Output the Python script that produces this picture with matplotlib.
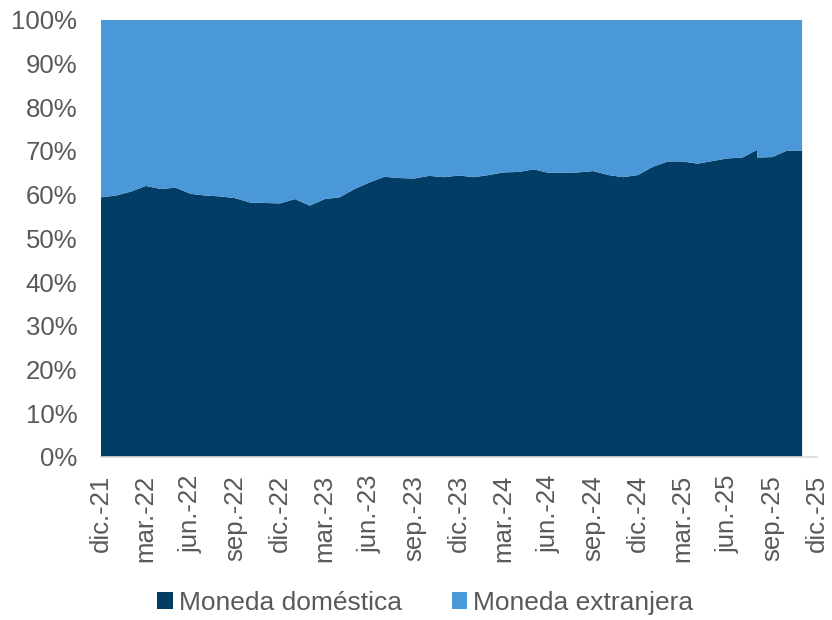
import matplotlib.pyplot as plt
import numpy as np
from matplotlib.patches import Patch
from matplotlib.ticker import FuncFormatter

plt.rcParams["font.family"] = ["Liberation Sans", "DejaVu Sans"]

# month index counted from dic.-21 (44 appears twice: vertical drop in the source)
months = [0, 1, 2, 3, 4, 5, 6, 7, 8, 9, 10, 11, 12, 13, 14, 15, 16, 17, 18, 19,
          20, 21, 22, 23, 24, 25, 26, 27, 28, 29, 30, 31, 32, 33, 34, 35, 36, 37,
          38, 39, 40, 41, 42, 43, 44, 44, 45, 46, 47]

domestica = [59.4, 59.8, 60.7, 62.0, 61.3, 61.6, 60.2, 59.8, 59.6, 59.2,
             58.2, 58.1, 58.0, 59.0, 57.5, 59.0, 59.4, 61.3, 62.8, 64.1,
             63.8, 63.7, 64.3, 64.0, 64.4, 64.0, 64.5, 65.1, 65.2, 65.8,
             65.0, 65.0, 65.1, 65.4, 64.5, 64.0, 64.5, 66.4, 67.6, 67.6,
             67.1, 67.7, 68.3, 68.5, 70.3, 68.5, 68.6, 70.1, 70.1]
extranjera = [100 - v for v in domestica]

tick_pos = list(range(0, 49, 3))
tick_labels = ["dic.-21", "mar.-22", "jun.-22", "sep.-22",
               "dic.-22", "mar.-23", "jun.-23", "sep.-23",
               "dic.-23", "mar.-24", "jun.-24", "sep.-24",
               "dic.-24", "mar.-25", "jun.-25", "sep.-25", "dic.-25"]

c_dom = "#023d66"
c_ext = "#4a98d8"
grey = "#595959"

fig = plt.figure(figsize=(8.32, 6.2), dpi=100)
ax = fig.add_axes([0.1214, 0.263, 0.8606, 0.705])

ax.stackplot(months, domestica, extranjera, colors=[c_dom, c_ext], linewidth=0)

ax.set_xlim(0, 48)
ax.set_ylim(0, 100)
ax.set_yticks(np.arange(0, 101, 10))
ax.yaxis.set_major_formatter(FuncFormatter(lambda v, p: f"{v:.0f}%"))
ax.set_xticks(tick_pos)
ax.set_xticklabels(tick_labels, rotation=90)
ax.tick_params(axis="both", length=0, labelsize=18.5, colors=grey)
ax.tick_params(axis="x", pad=13)
ax.tick_params(axis="y", pad=17)

for s in ["top", "right", "left"]:
    ax.spines[s].set_visible(False)
ax.spines["bottom"].set_color("#d9d9d9")
ax.spines["bottom"].set_linewidth(1.2)

handles = [Patch(facecolor=c_dom, label="Moneda doméstica"),
           Patch(facecolor=c_ext, label="Moneda extranjera")]
fig.legend(handles=handles, loc="center", bbox_to_anchor=(0.511, 0.028), ncol=2,
           frameon=False, fontsize=19, labelcolor=grey, handlelength=0.6,
           handleheight=0.6, handletextpad=0.2, columnspacing=1.9,
           borderpad=0)

fig.savefig("out.png", dpi=100)
